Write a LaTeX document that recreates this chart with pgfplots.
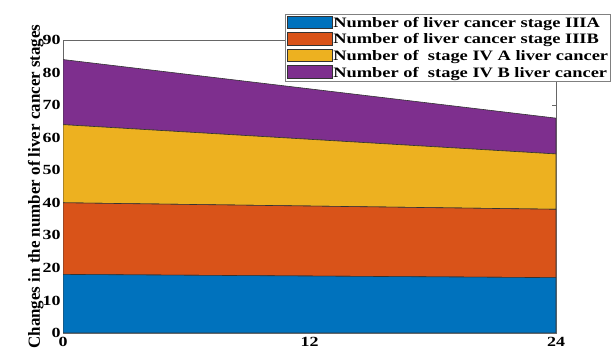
\documentclass[border=0pt]{standalone}
\usepackage{pgfplots}
\pgfplotsset{compat=1.18}
\usepackage{fontspec}
\setmainfont{Liberation Serif}
\definecolor{mblue}{rgb}{0,0.447,0.741}
\definecolor{morange}{rgb}{0.850,0.325,0.098}
\definecolor{myellow}{rgb}{0.929,0.694,0.125}
\definecolor{mpurple}{rgb}{0.494,0.184,0.556}
\newcommand\sq[1]{\scalebox{1}[0.78]{#1}}
\begin{document}
\begin{tikzpicture}
\useasboundingbox (0,0) rectangle (611bp,350bp);
\begin{axis}[
  at={(63bp,17bp)}, anchor=south west,
  scale only axis, width=493bp, height=293bp,
  xmin=0, xmax=24, ymin=0, ymax=90,
  xtick={0,12,24}, ytick={0,10,...,90},
  tick align=inside, tick pos=both,
  major tick length=4bp,
  axis line style={black!60, line width=0.6pt},
  every tick/.style={black!60},
  /pgf/number format/assume math mode=true,
  ticklabel style={font=\fontsize{18}{19}\selectfont\bfseries},
  yticklabel={\sq{\pgfmathprintnumber{\tick}}},
  xticklabel={\sq{\pgfmathprintnumber{\tick}}},
  yticklabel style={xshift=1bp},
  xticklabel style={yshift=-1bp},
  ylabel={Changes in the number of liver cancer stages},
  ylabel style={font=\fontsize{17}{18}\selectfont\bfseries, yshift=-8bp},
  stack plots=y,
  legend cell align=left,
  legend style={at={(0.4503,1.0887)}, anchor=north west,
    font=\fontsize{18.5}{19}\selectfont\bfseries,
    draw=black!50, line width=0.6pt, inner sep=1.5bp, row sep=2.5bp,
    nodes={inner sep=1bp},
    fill=white},
  legend image code/.code={\fill[#1, draw=black!80, line width=0.5pt] (0bp,-5.5bp) rectangle (45bp,7bp);},
]
\addplot[fill=mblue, draw=black!80, line width=0.6pt] coordinates {(0,18) (12,17.5) (24,17)} \closedcycle;
\addplot[fill=morange, draw=black!80, line width=0.6pt] coordinates {(0,22) (12,21.5) (24,21)} \closedcycle;
\addplot[fill=myellow, draw=black!80, line width=0.6pt] coordinates {(0,24) (12,20.5) (24,17)} \closedcycle;
\addplot[fill=mpurple, draw=black!80, line width=0.6pt] coordinates {(0,20) (12,15.5) (24,11)} \closedcycle;
\legend{\sq{Number of liver cancer stage IIIA}, \sq{Number of liver cancer stage IIIB}, \sq{Number of\ \ stage IV A liver cancer}, \sq{Number of\ \ stage IV B liver cancer}}
\end{axis}
\end{tikzpicture}
\end{document}
